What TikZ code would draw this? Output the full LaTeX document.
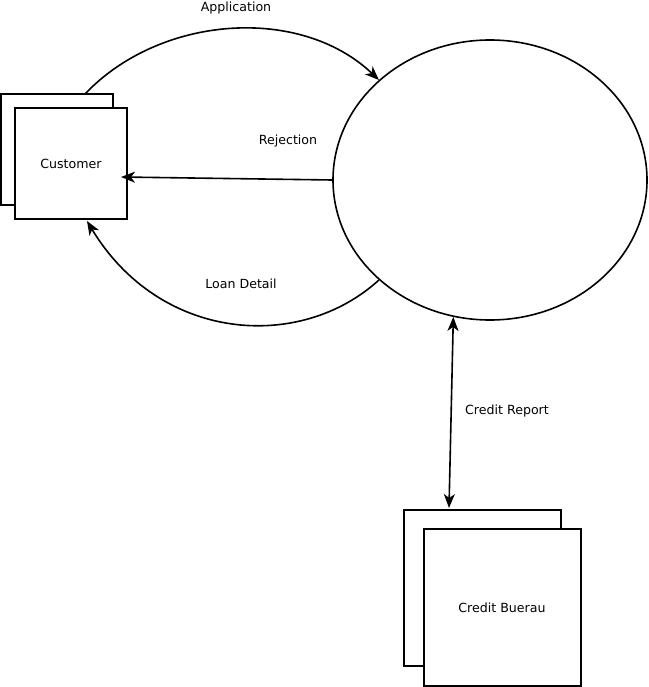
\documentclass[tikz,border=0pt]{standalone}
\usepackage{fontspec}
\setmainfont{DejaVu Sans}
\usetikzlibrary{shapes.geometric,arrows.meta}
\begin{document}
\begin{tikzpicture}[x=1pt,y=-1pt,
  every node/.style={font=\fontsize{12.6}{15}\selectfont},
  entity/.style={draw,line width=1.8pt,fill=white,inner sep=0pt},
  process/.style={draw,ellipse,line width=1.6pt,inner sep=0pt,minimum width=314pt,minimum height=280pt},
  flow/.style={line width=1.6pt,-{Stealth[length=14pt,width=11pt,inset=4pt]}},
  biflow/.style={line width=1.6pt,{Stealth[length=14pt,width=11pt,inset=4pt]}-{Stealth[length=14pt,width=11pt,inset=4pt]}},
  lbl/.style={inner sep=0pt}]
\useasboundingbox (0,0) rectangle (648,687);

% external entity: Customer (stacked boxes)
\node[entity,minimum width=112pt,minimum height=111pt] (custB) at (57,149.5) {};
\node[entity,minimum width=112pt,minimum height=111pt] (custF) at (71,163.5) {};
\node[lbl] (custT) at (71,164) {Customer};

% process
\node[process] (proc) at (490,180) {};

% external entity: Credit Buerau (stacked boxes)
\node[entity,minimum width=157pt,minimum height=156pt] (cbB) at (482.5,588) {};
\node[entity,minimum width=157pt,minimum height=157pt] (cbF) at (502.5,607.5) {};
\node[lbl] (cbT) at (502,608) {Credit Buerau};

% connector end points
\coordinate (appStart) at (85,94);
\coordinate (loanEnd) at (87,221);
\coordinate (rejEnd) at (121,177);
\coordinate (crEnd) at (449,508);

% data flows
\draw[flow] (appStart) .. controls (160,15) and (300,5) .. (proc.138);
\draw[flow] (proc.222) .. controls (300,352) and (160,342) .. (loanEnd);
\draw[flow] (proc.180) -- (rejEnd);
\draw[biflow] (proc.255.5) -- (crEnd);

% flow labels
\node[lbl] (appL) at (236,8) {Application};
\node[lbl] (rejL) at (288,141) {Rejection};
\node[lbl] (loanL) at (241,284) {Loan Detail};
\node[lbl] (crL) at (507,411) {Credit Report};
\end{tikzpicture}
\end{document}
